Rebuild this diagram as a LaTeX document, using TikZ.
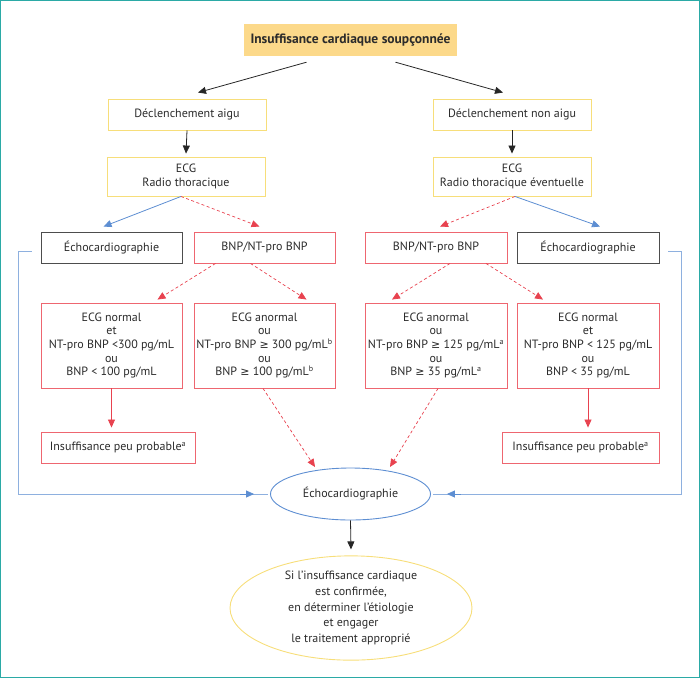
\documentclass[tikz,border=0pt]{standalone}
\usepackage{fontspec}
\setmainfont{PT Sans}
\usetikzlibrary{arrows.meta,calc,shapes.geometric}
\definecolor{frameteal}{HTML}{2BAAA6}
\definecolor{topfill}{HTML}{FCD98A}
\definecolor{yelc}{HTML}{F7DE7A}
\definecolor{redbox}{HTML}{EE6670}
\definecolor{redarr}{HTML}{E8424F}
\definecolor{bluel}{HTML}{5D8ED2}
\definecolor{grayb}{HTML}{4D4D4D}
\definecolor{txt}{HTML}{2B2B2B}
\tikzset{
  tip/.style={-{Triangle[length=8pt,width=7pt]}},
  ybox/.style={draw=yelc, line width=0.9pt, align=center, inner sep=0pt, text=txt},
  rbox/.style={draw=redbox, line width=0.9pt, align=center, inner sep=0pt, text=txt},
  gbox/.style={draw=grayb, line width=0.9pt, align=center, inner sep=0pt, text=txt},
  blk/.style={tip, draw=black!85, line width=0.8pt},
  rdash/.style={tip, draw=redarr, line width=0.7pt, dash pattern=on 3pt off 2.5pt},
  rsolid/.style={tip, draw=redarr, line width=0.8pt},
  blu/.style={tip, draw=bluel, line width=0.8pt},
  bluline/.style={draw=bluel!70, line width=0.8pt},
}
\newcommand{\sym}[1]{{\fontspec{DejaVu Sans}\fontsize{11}{13.5}\selectfont #1}}
\begin{document}
\begin{tikzpicture}[x=1pt,y=-1pt, font=\fontsize{12}{13.6}\selectfont]
\useasboundingbox (0,0) rectangle (700,678);
\draw[frameteal, line width=1.3pt] (0.65,0.65) rectangle (699.35,677.35);

\node[fill=topfill, minimum width=213pt, minimum height=32pt, inner sep=0pt, text=txt,
      font=\fontsize{13.5}{15}\selectfont\bfseries] (top) at (350.5,40) {Insuffisance cardiaque soupçonnée};

\node[ybox, minimum width=158pt, minimum height=31pt] (dl) at (187,114.5) {Déclenchement aigu};
\node[ybox, minimum width=158pt, minimum height=31pt] (dn) at (512,114.5) {Déclenchement non aigu};
\node[ybox, minimum width=158pt, minimum height=39pt] (el) at (186,176.5) {ECG\\Radio thoracique};
\node[ybox, minimum width=158pt, minimum height=39pt] (er) at (512,176.5) {ECG\\Radio thoracique éventuelle};

\node[gbox, minimum width=141pt, minimum height=31pt] (e1) at (111.5,247.5) {Échocardiographie};
\node[rbox, minimum width=141pt, minimum height=31pt] (b1) at (264.5,247.5) {BNP/NT-pro BNP};
\node[rbox, minimum width=142pt, minimum height=31pt] (b2) at (436,247.5) {BNP/NT-pro BNP};
\node[gbox, minimum width=142pt, minimum height=31pt] (e2) at (588,247.5) {Échocardiographie};

\node[rbox, minimum width=141pt, minimum height=85pt] (c1) at (111.5,345.5)
  {ECG normal\\et\\NT-pro BNP <300 pg/mL\\ou\\BNP < 100 pg/mL};
\node[rbox, minimum width=141pt, minimum height=85pt] (c2) at (264.5,345.5)
  {ECG anormal\\ou\\NT-pro BNP \sym{≥} 300 pg/mL\textsuperscript{b}\\ou\\BNP \sym{≥} 100 pg/mL\textsuperscript{b}};
\node[rbox, minimum width=142pt, minimum height=85pt] (c3) at (436,345.5)
  {ECG anormal\\ou\\NT-pro BNP \sym{≥} 125 pg/mL\textsuperscript{a}\\ou\\BNP \sym{≥} 35 pg/mL\textsuperscript{a}};
\node[rbox, minimum width=142pt, minimum height=85pt] (c4) at (588,345.5)
  {ECG normal\\et\\NT-pro BNP < 125 pg/mL\\ou\\BNP < 35 pg/mL};

\node[rbox, minimum width=154pt, minimum height=31pt] (p1) at (118,447.5) {Insuffisance peu probable\textsuperscript{a}};
\node[rbox, minimum width=157pt, minimum height=31pt] (p2) at (580.5,447.5) {Insuffisance peu probable\textsuperscript{a}};

\node[ellipse, draw=bluel, line width=0.9pt, minimum width=160pt, minimum height=52pt, inner sep=0pt, text=txt] (echo) at (350.5,494) {Échocardiographie};
\node[ellipse, draw=yelc, line width=0.9pt, minimum width=242pt, minimum height=102pt, inner sep=0pt, align=center, text=txt,
      font=\fontsize{12}{15.7}\selectfont] (fin) at (351,608)
  {Si l’insuffisance cardiaque\\est confirmée,\\en déterminer l'étiologie\\et engager\\le traitement approprié};

% connectors
\draw[blk] ($(top.south)+(-44,6)$) -- ($(dl.north)+(11,-6)$);
\draw[blk] ($(top.south)+(45,6)$) -- ($(dn.north)+(-9,-6)$);
\draw[blk] (dl.south) -- ($(el.north)+(0,-3)$);
\draw[blk] (dn.south) -- ($(er.north)+(0,-3)$);

\draw[blu] ($(el.south)+(-5,0)$) -- ($(e1.north)+(-8,-5)$);
\draw[rdash] ($(el.south)+(-5,0)$) -- ($(b1.north)+(-5,-5)$);
\draw[rdash] ($(er.south)+(3,0)$) -- ($(b2.north)+(4,-5)$);
\draw[blu] ($(er.south)+(3,0)$) -- ($(e2.north)+(12,-5)$);

\draw[rdash] ($(b1.south)+(-49,0)$) -- ($(c1.north)+(46,-3)$);
\draw[rdash] ($(b1.south)+(-14,0)$) -- ($(c2.north)+(42,-3)$);
\draw[rdash] ($(b2.south)+(14,0)$) -- ($(c3.north)+(-44,-3)$);
\draw[rdash] ($(b2.south)+(50,0)$) -- ($(c4.north)+(-45,-3)$);

\draw[rsolid] (c1.south) -- ($(c1.south |- p1.north)+(0,-4)$);
\draw[rsolid] (c4.south) -- ($(c4.south |- p2.north)+(0,-4)$);

\draw[rdash] ($(c2.south)+(-1.5,0)$) -- ($(echo.center)+(-35.5,-27)$);
\draw[rdash] ($(c3.south)+(2,0)$) -- ($(echo.center)+(39.5,-27)$);

\coordinate (l1) at ($(e1.west)+(-9,3.5)$);
\coordinate (l2) at ($(e2.east)+(9,3.5)$);
\draw[bluline] (l1) -- ++(-13,0) |- ($(echo.west)+(-2,0)$);
\draw[blu] ($(echo.west)+(-30,0)$) -- ($(echo.west)+(-16,0)$);
\draw[bluline] (l2) -- ++(13,0) |- ($(echo.east)+(2,0)$);
\draw[blu] ($(echo.east)+(30,0)$) -- ($(echo.east)+(16,0)$);

\draw[blk] (echo.south) -- ($(fin.north)+(0,-6)$);
\end{tikzpicture}
\end{document}
